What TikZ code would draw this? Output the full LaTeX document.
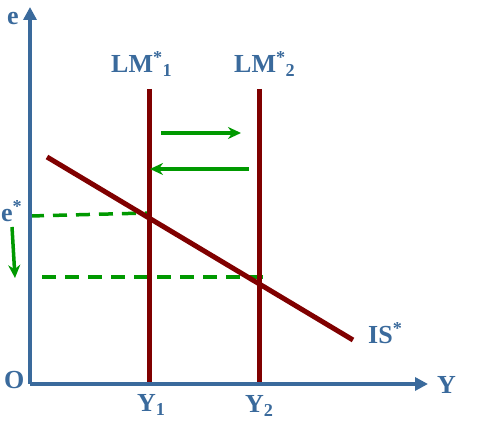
\documentclass[tikz,border=0pt]{standalone}
\usepackage{fontspec}
\setmainfont{Liberation Serif}
\usetikzlibrary{arrows.meta}
\definecolor{axisblue}{RGB}{58,106,156}
\definecolor{curvered}{RGB}{128,0,0}
\definecolor{shiftgreen}{RGB}{0,153,0}

\begin{document}
\begin{tikzpicture}[x=1pt,y=1pt,
	axisline/.style={draw=axisblue,line width=3.5pt,-{Triangle[length=13pt,width=13pt]}},
	curveline/.style={draw=curvered,line width=5pt},
	movearrow/.style={draw=shiftgreen,line width=3.5pt,-{Stealth[length=13pt,width=12pt]}},
	guideline/.style={draw=shiftgreen,line width=3.5pt,dash pattern=on 14pt off 9pt},
	lbl/.style={text=axisblue,font=\bfseries\fontsize{26}{26}\selectfont,inner sep=0pt,anchor=base west}]
\useasboundingbox (0,0) rectangle (487,435);
\coordinate (O) at (30,51);
\coordinate (etip) at (30,428);
\coordinate (Ytip) at (428,51);
\coordinate (lm1top) at (149,346);
\coordinate (lm1bot) at (149,51);
\coordinate (lm2top) at (259,346);
\coordinate (lm2bot) at (259,51);
\coordinate (isleft) at (47,278);
\coordinate (isright) at (353,95);
\coordinate (estar) at (30,219);
\coordinate (estarend) at (148,222);
\coordinate (enew) at (42,158);
\coordinate (enewend) at (263,158);

% equilibrium guides
\path (estar) edge[guideline] (estarend)
(enew) edge[guideline] (enewend);

% curves
\path (lm1top) edge[curveline] (lm1bot)
(lm2top) edge[curveline] (lm2bot)
(isleft) edge[curveline] (isright);

% axes
\draw[axisline] (O) -- (etip);
\draw[axisline] (O) -- (Ytip);

% shifts
\coordinate (r1) at (161,302);
\coordinate (r2) at (241,302);
\coordinate (l1) at (249,266);
\coordinate (l2) at (150,266);
\coordinate (d1) at (12,208);
\coordinate (d2) at (15,157);
\path (r1) edge[movearrow] (r2)
(l1) edge[movearrow] (l2)
(d1) edge[movearrow] (d2);

% labels
\node[lbl] (lbe) at (7,410) {e};
\node[lbl] (lblm1) at (111,362) {LM\textsuperscript{*}\textsubscript{1}};
\node[lbl] (lblm2) at (234,362) {LM\textsuperscript{*}\textsubscript{2}};
\node[lbl] (lbestar) at (1,213) {e\textsuperscript{*}};
\node[lbl] (lbO) at (4,46) {O};
\node[lbl] (lbY) at (437,41) {Y};
\node[lbl] (lbY1) at (137,23) {Y\textsubscript{1}};
\node[lbl] (lbY2) at (245,22) {Y\textsubscript{2}};
\node[lbl] (lbIS) at (368,91) {IS\textsuperscript{*}};

\end{tikzpicture}
\end{document}
